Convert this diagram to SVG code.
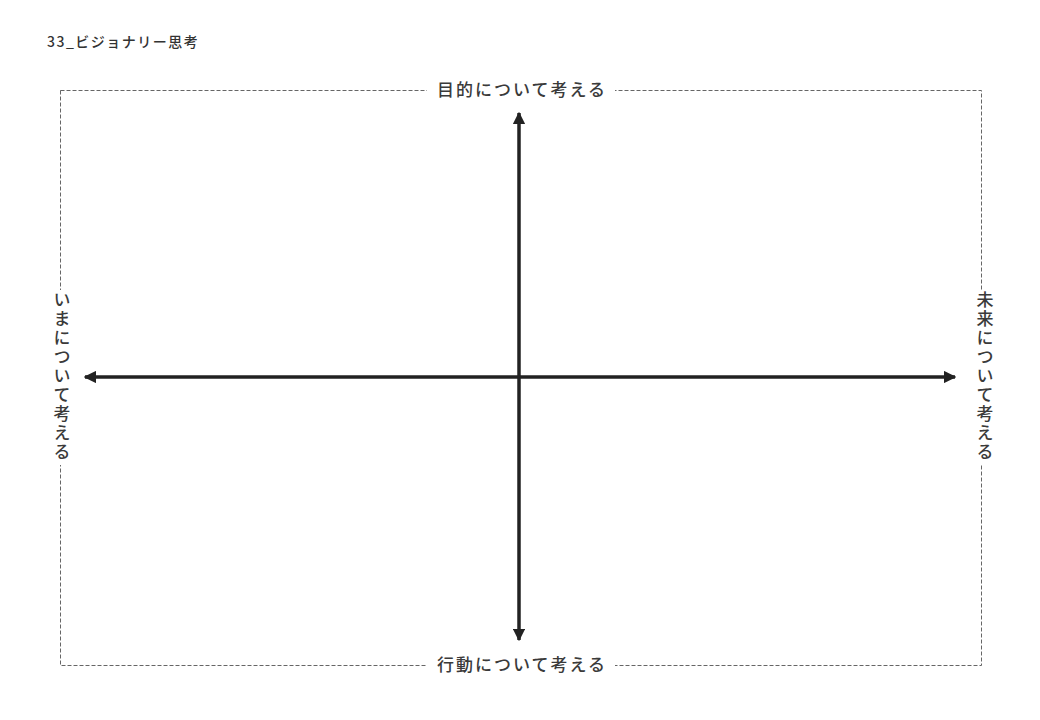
<svg xmlns="http://www.w3.org/2000/svg" width="1040" height="720" viewBox="0 0 1040 720">
<style>
.lbl{font-family:"Noto Sans CJK JP","Noto Sans",sans-serif;font-size:17px;font-weight:500;fill:#3a3a3a;letter-spacing:2px}
.vlbl{font-family:"Noto Sans CJK JP","Noto Sans",sans-serif;font-size:17px;font-weight:500;fill:#3a3a3a;writing-mode:vertical-rl;letter-spacing:2px}
.axis{stroke:#222;stroke-width:3.5;fill:none}
.frame{stroke:#666;stroke-width:1;stroke-dasharray:4 2;fill:none}
</style>
<defs>
<marker id="ah" viewBox="0 0 10 10" refX="9" refY="5" markerWidth="3.6" markerHeight="3.6" orient="auto-start-reverse" markerUnits="strokeWidth">
<path d="M0,0 L10,5 L0,10 z" fill="#222"/>
</marker>
</defs>
<rect width="1040" height="720" fill="#fff"/>
<text id="title" x="47" y="47" style="font-family:'Noto Sans CJK JP','Noto Sans',sans-serif;font-size:14px;font-weight:500;fill:#333;letter-spacing:1.5px">33_ビジョナリー思考</text>
<g id="frame">
<rect class="frame" x="60.5" y="90.5" width="921" height="575"/>
</g>
<g id="connectors">
<line class="axis" x1="519" y1="640" x2="519" y2="113" marker-start="url(#ah)" marker-end="url(#ah)"/>
<line class="axis" x1="85" y1="377" x2="955" y2="377" marker-start="url(#ah)" marker-end="url(#ah)"/>
</g>
<g id="top">
<rect x="427" y="78" width="188" height="24" fill="#fff"/>
<text class="lbl" x="522" y="96" text-anchor="middle">目的について考える</text>
</g>
<g id="bottom">
<rect x="427" y="653" width="188" height="24" fill="#fff"/>
<text class="lbl" x="522" y="671" text-anchor="middle">行動について考える</text>
</g>
<g id="left">
<rect x="50" y="290" width="24" height="175" fill="#fff"/>
<text class="vlbl" x="62" y="377" text-anchor="middle">いまについて考える</text>
</g>
<g id="right">
<rect x="970" y="290" width="24" height="175" fill="#fff"/>
<text class="vlbl" x="985" y="377" text-anchor="middle">未来について考える</text>
</g>
</svg>
